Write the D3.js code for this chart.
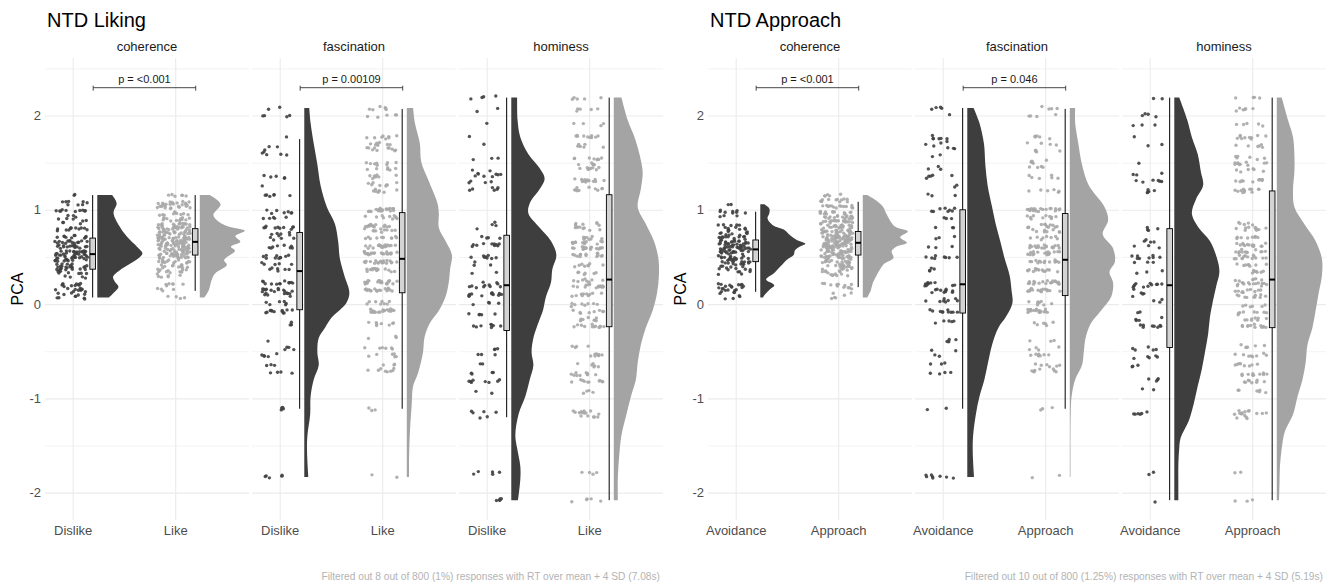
<!DOCTYPE html>
<html>
<head>
<meta charset="utf-8">
<script src="https://cdn.jsdelivr.net/npm/d3@7"></script>
<style>
    body { margin: 0; background: #ffffff; }
    text { font-family: "Liberation Sans", Arial, sans-serif; }
</style>
</head>
<body>
<svg id="chart" width="1330" height="585"></svg>
<script>
// ---- data ----
var panelTitles = ["NTD Liking", "NTD Approach"];
var facets = ["coherence", "fascination", "hominess"];
var likingGroups = ["Dislike", "Like"];
var approachGroups = ["Avoidance", "Approach"];
var yTicks = [-2, -1, 0, 1, 2];
var yMinor = [-1.5, -0.5, 0.5, 1.5, 2.5];
var likingP = ["p = <0.001", "p = 0.00109", null];
var approachP = ["p = <0.001", "p = 0.046", null];
var likingNote = "Filtered out 8 out of 800 (1%) responses with RT over mean + 4 SD (7.08s)";
var approachNote = "Filtered out 10 out of 800 (1.25%) responses with RT over mean + 4 SD (5.19s)";

// box stats: [lower whisker, q1, median, q3, upper whisker]
var likingBoxes = [
    [[0.07, 0.37, 0.53, 0.70, 1.156], [0.14, 0.52, 0.66, 0.80, 1.156]],
    [[-1.11, -0.06, 0.35, 0.76, 1.75], [-1.11, 0.12, 0.48, 0.97, 2.07]],
    [[-1.2, -0.28, 0.2, 0.73, 2.19], [-2.08, -0.24, 0.26, 1.16, 2.19]]
];
var approachBoxes = [
    [[0.13, 0.45, 0.58, 0.68, 0.98], [0.18, 0.52, 0.65, 0.77, 1.085]],
    [[-1.11, -0.095, 0.21, 1.0, 2.08], [-1.11, 0.09, 0.47, 0.96, 2.07]],
    [[-2.08, -0.46, 0.2, 0.80, 2.19], [-2.08, -0.25, 0.26, 1.2, 2.19]]
];

// points: [PCA value, number of responses]
var likCohDis = [[1.156,2],[1.07,8],[1.0,10],[0.92,6],[0.87,5],[0.79,12],[0.71,10],[0.66,14],[0.61,16],[0.55,18],[0.51,18],[0.47,14],[0.41,12],[0.38,12],[0.34,8],[0.29,4],[0.2,10],[0.15,10],[0.1,6],[0.07,5]];
var likCohLik = [[1.156,6],[1.07,14],[1.03,12],[0.96,10],[0.9,12],[0.84,16],[0.8,20],[0.75,22],[0.7,22],[0.66,22],[0.62,20],[0.58,20],[0.54,18],[0.5,16],[0.45,14],[0.4,12],[0.35,10],[0.3,6],[0.2,6],[0.15,4],[0.07,4]];
var likFasDis = [[2.08,2],[2.0,4],[1.77,1],[1.66,2],[1.62,3],[1.57,3],[1.35,5],[1.27,1],[1.16,6],[0.98,7],[0.92,5],[0.81,10],[0.74,6],[0.69,4],[0.61,8],[0.5,10],[0.43,5],[0.37,6],[0.23,12],[0.15,12],[0.1,8],[0.01,6],[-0.08,12],[-0.21,3],[-0.38,1],[-0.47,4],[-0.54,5],[-0.65,3],[-0.73,4],[-1.11,4],[-1.83,5]];
var likFasLik = [[2.08,6],[2.0,5],[1.77,8],[1.7,8],[1.64,10],[1.49,8],[1.44,6],[1.35,8],[1.27,8],[1.2,8],[1.0,20],[0.92,10],[0.83,15],[0.78,10],[0.7,10],[0.61,20],[0.54,20],[0.45,20],[0.36,15],[0.23,20],[0.15,18],[0.01,8],[-0.07,18],[-0.21,8],[-0.36,3],[-0.47,6],[-0.54,6],[-0.63,3],[-0.7,8],[-1.11,3],[-1.83,2]];
var likHomDis = [[2.19,4],[2.06,2],[1.9,1],[1.78,1],[1.68,1],[1.54,3],[1.42,2],[1.37,8],[1.29,4],[1.22,6],[0.85,3],[0.8,1],[0.7,4],[0.63,10],[0.5,8],[0.43,3],[0.34,2],[0.23,3],[0.19,8],[0.1,12],[0.01,4],[-0.11,5],[-0.23,8],[-0.47,3],[-0.54,3],[-0.65,2],[-0.74,4],[-0.82,8],[-0.93,2],[-1.15,4],[-1.2,2],[-1.79,5],[-2.08,5]];
var likHomLik = [[2.19,5],[2.06,5],[1.9,4],[1.77,10],[1.68,6],[1.55,8],[1.49,5],[1.44,8],[1.31,14],[1.22,10],[0.85,6],[0.8,8],[0.7,8],[0.65,12],[0.59,16],[0.52,14],[0.41,8],[0.32,6],[0.25,8],[0.19,14],[0.1,10],[-0.01,8],[-0.08,8],[-0.16,8],[-0.23,12],[-0.45,4],[-0.54,8],[-0.65,6],[-0.74,10],[-0.82,10],[-0.93,4],[-1.15,10],[-1.2,5],[-1.79,4],[-2.08,5]];
var appCohAvo = [[1.06,2],[0.98,8],[0.92,3],[0.85,5],[0.8,8],[0.75,10],[0.7,12],[0.66,14],[0.62,16],[0.58,16],[0.54,14],[0.5,12],[0.46,12],[0.42,10],[0.38,8],[0.33,5],[0.2,10],[0.16,8],[0.12,4],[0.07,4]];
var appCohApp = [[1.156,5],[1.1,12],[1.03,14],[0.97,14],[0.92,16],[0.87,18],[0.82,20],[0.77,22],[0.72,22],[0.68,22],[0.64,22],[0.6,20],[0.56,20],[0.52,18],[0.48,16],[0.44,14],[0.4,12],[0.36,10],[0.32,8],[0.22,6],[0.18,6],[0.1,3],[0.07,3]];
var appFasAvo = [[2.08,4],[2.0,1],[1.77,6],[1.71,3],[1.66,4],[1.57,2],[1.44,3],[1.35,5],[1.26,2],[1.16,3],[1.0,8],[0.92,3],[0.81,3],[0.7,3],[0.61,3],[0.5,8],[0.37,4],[0.21,10],[0.14,10],[0.04,8],[-0.07,10],[-0.19,5],[-0.38,4],[-0.49,2],[-0.54,2],[-0.63,3],[-0.73,4],[-1.11,2],[-1.83,8]];
var appFasApp = [[2.08,4],[2.0,4],[1.77,5],[1.7,4],[1.62,5],[1.51,6],[1.44,4],[1.35,6],[1.2,6],[1.0,20],[0.92,10],[0.83,12],[0.78,8],[0.7,8],[0.61,18],[0.54,16],[0.45,14],[0.36,14],[0.23,20],[0.15,16],[0.01,8],[-0.07,18],[-0.21,6],[-0.38,3],[-0.47,4],[-0.54,8],[-0.65,6],[-0.7,8],[-1.11,3],[-1.83,2]];
var appHomAvo = [[2.19,2],[2.0,4],[1.9,3],[1.79,1],[1.68,2],[1.48,1],[1.37,3],[1.31,6],[1.2,5],[0.8,4],[0.67,4],[0.61,3],[0.5,8],[0.43,3],[0.34,3],[0.21,8],[0.17,4],[0.1,4],[0.03,3],[-0.1,2],[-0.16,4],[-0.23,8],[-0.47,5],[-0.56,5],[-0.65,3],[-0.8,4],[-0.9,2],[-1.15,6],[-1.79,2],[-2.08,1]];
var appHomApp = [[2.19,4],[2.06,6],[1.9,5],[1.77,10],[1.68,6],[1.55,6],[1.49,10],[1.42,6],[1.31,10],[1.2,12],[0.85,5],[0.8,10],[0.7,8],[0.63,14],[0.56,12],[0.5,14],[0.41,8],[0.34,8],[0.26,6],[0.21,14],[0.14,10],[0.08,10],[-0.01,6],[-0.1,8],[-0.16,8],[-0.23,12],[-0.45,6],[-0.54,8],[-0.65,8],[-0.74,10],[-0.82,8],[-0.93,6],[-1.15,12],[-1.2,4],[-1.79,2],[-2.08,3]];

// half-violin profiles: [PCA value, relative width]
var likCohDisDens = [[1.156,0.33],[1.067,0.43],[0.97,0.36],[0.82,0.5],[0.714,0.66],[0.608,0.88],[0.537,1.0],[0.467,0.86],[0.414,0.68],[0.36,0.5],[0.29,0.35],[0.237,0.39],[0.184,0.47],[0.113,0.35],[0.071,0.26]];
var likCohLikDens = [[1.156,0.22],[1.06,0.46],[0.944,0.3],[0.873,0.42],[0.82,0.65],[0.777,1.0],[0.72,0.79],[0.66,0.9],[0.608,0.69],[0.565,0.78],[0.467,0.54],[0.414,0.6],[0.325,0.34],[0.254,0.26],[0.148,0.2],[0.071,0.1]];
var likFasDisDens = [[2.08,0.11],[1.92,0.14],[1.70,0.21],[1.48,0.29],[1.26,0.36],[1.03,0.5],[0.85,0.68],[0.67,0.75],[0.48,0.79],[0.30,0.89],[0.12,1.0],[0.01,0.93],[-0.14,0.61],[-0.25,0.46],[-0.36,0.32],[-0.51,0.29],[-0.65,0.32],[-0.8,0.21],[-0.98,0.14],[-1.17,0.13],[-1.39,0.07],[-1.53,0.06],[-1.68,0.07],[-1.835,0.09]];
var likFasLikDens = [[2.08,0.14],[1.92,0.18],[1.70,0.29],[1.51,0.32],[1.29,0.5],[1.07,0.68],[0.96,0.71],[0.81,0.71],[0.67,0.86],[0.52,1.0],[0.37,0.96],[0.23,0.93],[0.08,0.86],[-0.07,0.71],[-0.21,0.5],[-0.36,0.39],[-0.51,0.36],[-0.73,0.25],[-0.87,0.14],[-1.06,0.11],[-1.35,0.07],[-1.64,0.05],[-1.835,0.05]];
var likHomDisDens = [[2.19,0.13],[1.95,0.14],[1.77,0.2],[1.59,0.38],[1.44,0.63],[1.33,0.74],[1.22,0.63],[1.07,0.41],[0.96,0.38],[0.81,0.63],[0.67,0.88],[0.52,1.0],[0.37,0.91],[0.23,0.88],[0.08,0.77],[-0.07,0.7],[-0.21,0.59],[-0.36,0.49],[-0.51,0.45],[-0.65,0.49],[-0.8,0.41],[-0.98,0.31],[-1.17,0.16],[-1.39,0.09],[-1.53,0.13],[-1.72,0.2],[-1.86,0.2],[-2.08,0.15]];
var likHomLikDens = [[2.19,0.17],[1.95,0.31],[1.77,0.46],[1.59,0.57],[1.40,0.64],[1.22,0.6],[1.03,0.53],[0.85,0.71],[0.67,0.89],[0.48,0.99],[0.30,1.0],[0.12,0.96],[-0.07,0.86],[-0.25,0.71],[-0.43,0.6],[-0.62,0.53],[-0.80,0.49],[-0.98,0.38],[-1.17,0.28],[-1.39,0.17],[-1.61,0.12],[-1.83,0.09],[-2.08,0.09]];
var appCohAvoDens = [[1.06,0.09],[1.015,0.2],[0.96,0.2],[0.91,0.16],[0.84,0.27],[0.79,0.52],[0.73,0.66],[0.68,0.81],[0.64,1.0],[0.61,0.88],[0.57,0.77],[0.52,0.74],[0.47,0.59],[0.4,0.45],[0.33,0.31],[0.26,0.13],[0.2,0.31],[0.15,0.2],[0.095,0.09],[0.07,0.06]];
var appCohAppDens = [[1.156,0.1],[1.1,0.29],[1.03,0.45],[0.96,0.52],[0.89,0.6],[0.82,0.72],[0.77,1.0],[0.71,0.83],[0.65,0.98],[0.61,0.75],[0.56,0.64],[0.49,0.68],[0.43,0.48],[0.36,0.37],[0.29,0.29],[0.22,0.22],[0.15,0.18],[0.07,0.1]];
var appFasAvoDens = [[2.08,0.14],[1.92,0.27],[1.70,0.37],[1.48,0.4],[1.26,0.45],[1.03,0.55],[0.85,0.63],[0.67,0.73],[0.48,0.83],[0.30,0.94],[0.15,0.98],[0.01,1.0],[-0.14,0.85],[-0.25,0.69],[-0.43,0.55],[-0.62,0.46],[-0.80,0.38],[-0.98,0.27],[-1.17,0.19],[-1.39,0.13],[-1.53,0.12],[-1.68,0.13],[-1.835,0.15]];
var appFasAppDens = [[2.08,0.12],[1.92,0.12],[1.70,0.19],[1.48,0.27],[1.26,0.42],[1.03,0.77],[0.89,0.85],[0.74,0.73],[0.59,0.96],[0.45,1.0],[0.34,0.88],[0.23,0.96],[0.08,0.92],[-0.07,0.69],[-0.21,0.46],[-0.36,0.35],[-0.51,0.31],[-0.65,0.27],[-0.80,0.12],[-0.98,0.04],[-1.17,0.02],[-1.53,0.015],[-1.835,0.015]];
var appHomAvoDens = [[2.19,0.11],[1.95,0.29],[1.77,0.39],[1.59,0.52],[1.40,0.59],[1.26,0.64],[1.11,0.48],[0.96,0.39],[0.81,0.54],[0.67,0.79],[0.48,0.95],[0.34,1.0],[0.19,0.93],[0.04,0.86],[-0.14,0.79],[-0.32,0.75],[-0.51,0.68],[-0.69,0.61],[-0.87,0.52],[-1.06,0.43],[-1.24,0.32],[-1.42,0.14],[-1.53,0.11],[-1.72,0.09],[-1.90,0.09],[-2.08,0.09]];
var appHomAppDens = [[2.19,0.11],[1.95,0.25],[1.77,0.36],[1.59,0.39],[1.40,0.39],[1.22,0.36],[1.03,0.39],[0.85,0.61],[0.67,0.86],[0.48,1.0],[0.30,1.0],[0.12,0.93],[-0.07,0.86],[-0.25,0.79],[-0.43,0.68],[-0.62,0.64],[-0.80,0.57],[-0.98,0.46],[-1.17,0.36],[-1.35,0.18],[-1.53,0.11],[-1.72,0.07],[-1.90,0.06],[-2.08,0.05]];

var likingPoints = [[likCohDis, likCohLik], [likFasDis, likFasLik], [likHomDis, likHomLik]];
var likingDens = [[likCohDisDens, likCohLikDens], [likFasDisDens, likFasLikDens], [likHomDisDens, likHomLikDens]];
var approachPoints = [[appCohAvo, appCohApp], [appFasAvo, appFasApp], [appHomAvo, appHomApp]];
var approachDens = [[appCohAvoDens, appCohAppDens], [appFasAvoDens, appFasAppDens], [appHomAvoDens, appHomAppDens]];

// ---- drawing ----
var svg = d3.select("#chart");
var fillDark = "#3e3e3e", fillLight = "#a4a4a4";
var pointDark = "#404040", pointLight = "#a9a9a9";
var gridColor = "#ebebeb";

var y = d3.scaleLinear()
    .domain([-2.29, 2.61])
    .range([520, 58]);

function expand(rows) {
    var out = [];
    rows.forEach(function (r) {
        for (var k = 0; k < r[1]; k++) out.push(r[0]);
    });
    return out;
}

// fixed hash for jitter offsets, so every run places points the same way
function hash01(n) {
    var s = Math.sin(n * 12.9898 + 78.233) * 43758.5453;
    return s - Math.floor(s);
}

function drawPanel(cfg) {
    var fx = d3.scaleBand()
        .domain(facets)
        .range([cfg.left, cfg.right])
        .paddingInner(0.0145);
    var x = d3.scaleLinear()
        .domain([0.73, 2.72])
        .range([0, fx.bandwidth()]);
    var violinMax = x(1.44) - x(1);
    var panelH = y.range()[0] - y.range()[1];

    var g = svg.append("g");

    // title
    g.append("text")
        .attr("x", cfg.left + 2)
        .attr("y", 27)
        .attr("font-size", 20)
        .attr("fill", "#000")
        .text(cfg.title);

    // y axis title
    g.append("text")
        .attr("transform", "translate(" + (cfg.left - 22) + "," + ((y.range()[0] + y.range()[1]) / 2) + ") rotate(-90)")
        .attr("text-anchor", "middle")
        .attr("font-size", 16)
        .attr("fill", "#000")
        .text("PCA");

    // y tick labels
    var yAxis = g.append("g")
        .attr("transform", "translate(" + cfg.left + ",0)")
        .call(d3.axisLeft(y).tickValues(yTicks).tickSize(0).tickPadding(4)
            .tickFormat(function (d) { return d < 0 ? "-" + Math.abs(d) : d; }));
    yAxis.select(".domain").remove();
    yAxis.selectAll("text")
        .attr("font-size", 13)
        .attr("fill", "#4d4d4d")
        .style("font-family", "'Liberation Sans', Arial, sans-serif");

    // caption
    g.append("text")
        .attr("x", cfg.right - 3)
        .attr("y", 580)
        .attr("text-anchor", "end")
        .attr("font-size", 10.2)
        .attr("fill", "#b3b3b3")
        .text(cfg.note);

    facets.forEach(function (f, fi) {
        var fg = g.append("g").attr("transform", "translate(" + fx(f) + ",0)");

        // for grid in y
        var minor = fg.append("g")
            .call(d3.axisLeft(y).tickValues(yMinor).tickSize(-fx.bandwidth()).tickFormat(""));
        minor.select(".domain").remove();
        minor.selectAll("line").attr("stroke", gridColor).attr("stroke-width", 0.6);

        var major = fg.append("g")
            .call(d3.axisLeft(y).tickValues(yTicks).tickSize(-fx.bandwidth()).tickFormat(""));
        major.select(".domain").remove();
        major.selectAll("line").attr("stroke", gridColor).attr("stroke-width", 1.1);

        // for grid in x + category labels
        var xAxis = fg.append("g")
            .attr("transform", "translate(0," + y.range()[0] + ")")
            .call(d3.axisBottom(x).tickValues([1, 2]).tickSize(-panelH).tickPadding(6)
                .tickFormat(function (d) { return cfg.groups[d - 1]; }));
        xAxis.select(".domain").remove();
        xAxis.selectAll("line").attr("stroke", gridColor).attr("stroke-width", 1.1);
        xAxis.selectAll("text")
            .attr("font-size", 13)
            .attr("fill", "#4d4d4d")
            .style("font-family", "'Liberation Sans', Arial, sans-serif");

        // strip label
        fg.append("text")
            .attr("x", fx.bandwidth() / 2)
            .attr("y", 51)
            .attr("text-anchor", "middle")
            .attr("font-size", 13)
            .attr("fill", "#1a1a1a")
            .text(f);

        [0, 1].forEach(function (gi) {
            var cat = gi + 1;
            var dark = gi === 0;
            var vals = expand(cfg.points[fi][gi]);
            var box = cfg.boxes[fi][gi];
            var seed = cfg.seed + fi * 1000 + gi * 500;

            // jittered points
            fg.append("g").selectAll("circle")
                .data(vals)
                .enter()
                .append("circle")
                .attr("cx", function (d, i) {
                    return x(cat - 0.015 + (hash01(seed + i) * 2 - 1) * 0.16);
                })
                .attr("cy", function (d, i) {
                    return y(d) + (hash01(seed + i + 0.37) * 2 - 1) * 1.8;
                })
                .attr("r", 1.7)
                .attr("fill", dark ? pointDark : pointLight)
                .attr("fill-opacity", 0.9);

            // boxplot
            var bx = x(cat + 0.195);
            fg.append("line")
                .attr("x1", bx).attr("x2", bx)
                .attr("y1", y(box[0])).attr("y2", y(box[4]))
                .attr("stroke", "#000").attr("stroke-width", 1);
            fg.append("rect")
                .attr("x", bx - 2.8)
                .attr("width", 5.6)
                .attr("y", y(box[3]))
                .attr("height", y(box[1]) - y(box[3]))
                .attr("fill", "#d3d3d3")
                .attr("stroke", "#000")
                .attr("stroke-width", 0.9);
            fg.append("line")
                .attr("x1", bx - 2.8).attr("x2", bx + 2.8)
                .attr("y1", y(box[2])).attr("y2", y(box[2]))
                .attr("stroke", "#000").attr("stroke-width", 2);

            // half violin
            var base = x(cat + 0.24);
            var area = d3.area()
                .curve(d3.curveCatmullRom.alpha(0.5))
                .y(function (d) { return y(d[0]); })
                .x0(base)
                .x1(function (d) { return base + d[1] * violinMax; });
            fg.append("path")
                .datum(cfg.dens[fi][gi])
                .attr("d", area)
                .attr("fill", dark ? fillDark : fillLight);
        });

        // significance bracket
        if (cfg.pvals[fi]) {
            var b1 = x(1.2), b2 = x(2.2), by = y(2.295);
            fg.append("path")
                .attr("d", "M" + b1 + "," + (by - 2) + "V" + (by + 3) + "M" + b1 + "," + by + "H" + b2 +
                    "M" + b2 + "," + (by - 2) + "V" + (by + 3))
                .attr("fill", "none")
                .attr("stroke", "#333")
                .attr("stroke-width", 0.9);
            fg.append("text")
                .attr("x", (b1 + b2) / 2)
                .attr("y", by - 5)
                .attr("text-anchor", "middle")
                .attr("font-size", 11)
                .attr("fill", "#1a1a1a")
                .text(cfg.pvals[fi]);
        }
    });
}

drawPanel({
    left: 45, right: 663, title: panelTitles[0], groups: likingGroups, seed: 11,
    points: likingPoints, dens: likingDens, boxes: likingBoxes, pvals: likingP, note: likingNote
});
drawPanel({
    left: 708, right: 1326, title: panelTitles[1], groups: approachGroups, seed: 7000,
    points: approachPoints, dens: approachDens, boxes: approachBoxes, pvals: approachP, note: approachNote
});
</script>
</body>
</html>
